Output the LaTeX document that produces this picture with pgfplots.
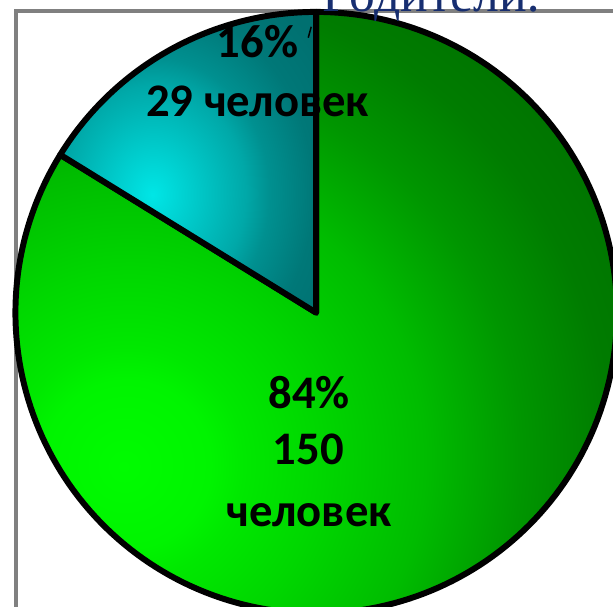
\documentclass[border=0pt]{standalone}
\usepackage{fontspec}
\setmainfont{Carlito}
\newfontfamily\titlefont{Liberation Serif}
\usepackage{pgfplots}
\usepackage{pgfplotstable}
\pgfplotsset{compat=1.18}
\definecolor{g0}{RGB}{0,252,0}
\definecolor{g1}{RGB}{0,244,0}
\definecolor{g2}{RGB}{0,232,0}
\definecolor{g3}{RGB}{0,215,0}
\definecolor{g4}{RGB}{0,188,0}
\definecolor{g5}{RGB}{0,150,0}
\definecolor{g6}{RGB}{0,124,0}
\definecolor{g7}{RGB}{0,114,0}
\pgfdeclareradialshading{greensh}{\pgfpoint{-16bp}{-12.8bp}}{color(0bp)=(g0); color(7bp)=(g1); color(9.7bp)=(g2); color(15.8bp)=(g3); color(24.3bp)=(g4); color(32bp)=(g5); color(39bp)=(g6); color(45.5bp)=(g7); color(500bp)=(g7)}
\definecolor{t0}{RGB}{0,230,230}
\definecolor{t1}{RGB}{0,168,168}
\definecolor{t2}{RGB}{0,144,144}
\definecolor{t3}{RGB}{0,120,120}
\definecolor{t4}{RGB}{0,112,112}
\pgfdeclareradialshading{tealsh}{\pgfpoint{-7bp}{-5.4bp}}{color(0bp)=(t0); color(18bp)=(t1); color(22.5bp)=(t2); color(31bp)=(t3); color(40bp)=(t4); color(500bp)=(t4)}
\definecolor{framegray}{RGB}{128,128,128}
\definecolor{titlenavy}{RGB}{23,46,112}
\pgfplotstableread{
label value
A 150
B 29
}\piedata
\begin{document}
\pgfplotstablegetelem{0}{value}\of\piedata \let\vA\pgfplotsretval
\pgfplotstablegetelem{1}{value}\of\piedata \let\vB\pgfplotsretval
\pgfmathsetmacro\total{\vA+\vB}
\pgfmathsetmacro\angB{90+360*\vB/\total}
\begin{tikzpicture}[x=1pt,y=1pt]
\path[use as bounding box, clip] (0,0) rectangle (613,611);
\draw[framegray, line width=4pt] (12,-20) -- (12,599.5) -- (640,599.5);
\begin{axis}[at={(314pt,296pt)}, anchor=center, scale only axis,
  width=606pt, height=606pt, xmin=-1, xmax=1, ymin=-1, ymax=1,
  hide axis, clip=false, no markers]
\addplot[draw=black, line width=6pt, line join=round, shade, shading=greensh,
  domain=\angB:450, samples=200] ({cos(x)},{sin(x)}) -- (0,0) -- cycle;
\addplot[draw=black, line width=6pt, line join=round, shade, shading=tealsh,
  domain=90:\angB, samples=60] ({cos(x)},{sin(x)}) -- (0,0) -- cycle;
\end{axis}
\draw[black, line width=1.5pt] (306,573) -- (309,584);
\tikzset{lbl/.style={anchor=base, inner sep=0, font=\bfseries\fontsize{47}{54}\selectfont}}
\node[lbl] at (255,553) {16\%};
\node[lbl] at (255,494) {29 человек};
\node[lbl] at (307,199) {84\%};
\node[lbl] at (306,143) {150};
\node[lbl] at (307,81) {человек};
\node[anchor=base west, inner sep=0, text=titlenavy, font=\titlefont\fontsize{52}{60}\selectfont] at (320,599) {Родители:};
\end{tikzpicture}
\end{document}
